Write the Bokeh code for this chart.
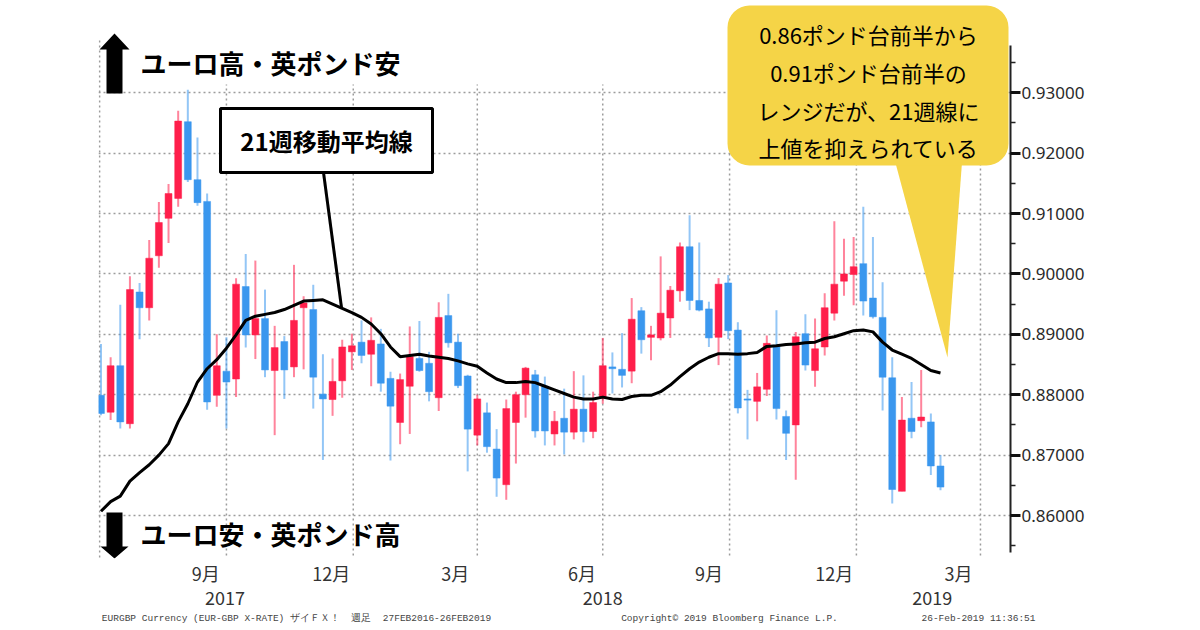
import pandas as pd
from bokeh.plotting import figure
from bokeh.models import (Range1d, LinearAxis, FixedTicker, NumeralTickFormatter,
                          BoxAnnotation, PolyAnnotation, Label, Arrow)
from bokeh.embed import file_html
from bokeh.resources import INLINE

# ---------------- data (weekly EUR/GBP candles) ----------------
last_week = "2019-03-03"
opens = [0.8799, 0.8771, 0.8848, 0.8752, 0.8970, 0.8944, 0.9030, 0.9092, 0.9125, 0.9252,
         0.9156, 0.9120, 0.8799, 0.8839, 0.8826, 0.8979, 0.8899, 0.8926, 0.8840, 0.8888,
         0.8846, 0.8944, 0.8941, 0.8801, 0.8792, 0.8823, 0.8871, 0.8887, 0.8867, 0.8884,
         0.8827, 0.8754, 0.8814, 0.8860, 0.8852, 0.8795, 0.8931, 0.8887, 0.8831, 0.8733,
         0.8770, 0.8710, 0.8651, 0.8754, 0.8800, 0.8833, 0.8814, 0.8735, 0.8761, 0.8738,
         0.8776, 0.8739, 0.8794, 0.8846, 0.8842, 0.8839, 0.8939, 0.8895, 0.8894, 0.8927,
         0.8972, 0.9045, 0.8956, 0.8942, 0.8895, 0.8985, 0.8907, 0.8793, 0.8789, 0.8809,
         0.8882, 0.8764, 0.8750, 0.8901, 0.8840, 0.8879, 0.8935, 0.8988, 0.8999, 0.9017,
         0.8960, 0.8928, 0.8828, 0.8640, 0.8761, 0.8757, 0.8755, 0.8682]
highs = [0.8884, 0.8862, 0.8949, 0.8996, 0.8985, 0.9056, 0.9119, 0.9149, 0.9270, 0.9305,
         0.9226, 0.9133, 0.8900, 0.8895, 0.8993, 0.9033, 0.9022, 0.8974, 0.8914, 0.8897,
         0.9015, 0.8963, 0.8982, 0.8867, 0.8860, 0.8891, 0.8901, 0.8923, 0.8928, 0.8909,
         0.8838, 0.8835, 0.8913, 0.8922, 0.8871, 0.8953, 0.8967, 0.8901, 0.8833, 0.8800,
         0.8787, 0.8743, 0.8792, 0.8805, 0.8846, 0.8841, 0.8830, 0.8773, 0.8810, 0.8839,
         0.8832, 0.8805, 0.8894, 0.8870, 0.8902, 0.8960, 0.8945, 0.8914, 0.9029, 0.8980,
         0.9052, 0.9097, 0.9052, 0.8954, 0.8993, 0.8998, 0.8920, 0.8808, 0.8836, 0.8898,
         0.8940, 0.8774, 0.8904, 0.8933, 0.8926, 0.8968, 0.9087, 0.9058, 0.9061, 0.9111,
         0.9061, 0.8986, 0.8862, 0.8796, 0.8821, 0.8841, 0.8769, 0.8700]
lows = [0.8766, 0.8758, 0.8744, 0.8744, 0.8892, 0.8923, 0.9010, 0.9051, 0.9111, 0.9152,
        0.9113, 0.8775, 0.8780, 0.8744, 0.8796, 0.8878, 0.8859, 0.8829, 0.8733, 0.8793,
        0.8829, 0.8842, 0.8777, 0.8692, 0.8765, 0.8795, 0.8841, 0.8852, 0.8814, 0.8805,
        0.8691, 0.8718, 0.8735, 0.8838, 0.8789, 0.8773, 0.8878, 0.8811, 0.8673, 0.8716,
        0.8704, 0.8631, 0.8626, 0.8686, 0.8762, 0.8729, 0.8716, 0.8716, 0.8701, 0.8726,
        0.8721, 0.8728, 0.8785, 0.8802, 0.8812, 0.8819, 0.8868, 0.8857, 0.8890, 0.8894,
        0.8954, 0.8940, 0.8938, 0.8879, 0.8849, 0.8892, 0.8769, 0.8726, 0.8756, 0.8798,
        0.8759, 0.8692, 0.8659, 0.8840, 0.8813, 0.8865, 0.8923, 0.8964, 0.8948, 0.8931,
        0.8926, 0.8774, 0.8620, 0.8640, 0.8728, 0.8746, 0.8667, 0.8642]
closes = [0.8769, 0.8848, 0.8755, 0.8974, 0.8944, 0.9026, 0.9085, 0.9133, 0.9253, 0.9156,
          0.9118, 0.8788, 0.8848, 0.8821, 0.8983, 0.8899, 0.8926, 0.8841, 0.8878, 0.8841,
          0.8923, 0.8952, 0.8829, 0.8793, 0.8822, 0.8879, 0.8881, 0.8865, 0.8890, 0.8819,
          0.8781, 0.8825, 0.8863, 0.8840, 0.8805, 0.8928, 0.8886, 0.8815, 0.8743, 0.8793,
          0.8714, 0.8662, 0.8777, 0.8800, 0.8844, 0.8740, 0.8740, 0.8756, 0.8738, 0.8776,
          0.8739, 0.8787, 0.8848, 0.8843, 0.8832, 0.8925, 0.8891, 0.8899, 0.8935, 0.8973,
          0.9045, 0.8956, 0.8940, 0.8894, 0.8983, 0.8906, 0.8778, 0.8791, 0.8813, 0.8885,
          0.8777, 0.8736, 0.8896, 0.8849, 0.8876, 0.8944, 0.8983, 0.9000, 0.9012, 0.8955,
          0.8929, 0.8829, 0.8643, 0.8758, 0.8739, 0.8763, 0.8682, 0.8647]
ma21 = [0.8607, 0.8623, 0.8632, 0.8657, 0.8671, 0.8684, 0.8700, 0.8719, 0.8755, 0.8785,
        0.8821, 0.8843, 0.8858, 0.8877, 0.8899, 0.8923, 0.8930, 0.8933, 0.8936, 0.8941,
        0.8948, 0.8955, 0.8956, 0.8957, 0.8950, 0.8943, 0.8936, 0.8928, 0.8917, 0.8901,
        0.8879, 0.8863, 0.8865, 0.8867, 0.8864, 0.8862, 0.8860, 0.8856, 0.8851, 0.8847,
        0.8836, 0.8826, 0.8820, 0.8820, 0.8822, 0.8820, 0.8814, 0.8808, 0.8802, 0.8796,
        0.8793, 0.8793, 0.8796, 0.8793, 0.8792, 0.8797, 0.8799, 0.8799, 0.8805, 0.8816,
        0.8830, 0.8843, 0.8854, 0.8862, 0.8868, 0.8868, 0.8867, 0.8868, 0.8870, 0.8880,
        0.8881, 0.8883, 0.8884, 0.8886, 0.8887, 0.8893, 0.8896, 0.8901, 0.8906, 0.8907,
        0.8904, 0.8887, 0.8874, 0.8867, 0.8860, 0.8850, 0.8840, 0.8836]

month_ticks = ["2017-09-16", "2017-12-16", "2018-03-16", "2018-06-16",
               "2018-09-16", "2018-12-16", "2019-03-16"]
month_labels = ["9月", "12月", "3月", "6月", "9月", "12月", "3月"]
year_ticks = ["2017-09-30", "2018-07-01", "2019-02-25"]
year_labels = ["2017", "2018", "2019"]
quarter_lines = ["2017-07-01", "2017-10-01", "2018-01-01", "2018-04-01",
                 "2018-07-01", "2018-10-01", "2019-01-01", "2019-04-01"]
y_ticks = [0.86, 0.87, 0.88, 0.89, 0.90, 0.91, 0.92, 0.93]
y_minor = [0.855, 0.865, 0.875, 0.885, 0.895, 0.905, 0.915, 0.925, 0.935]
foot_texts = ["EURGBP Currency (EUR-GBP X-RATE) ザイＦＸ！\u00a0\u00a0週足\u00a0\u00a027FEB2016-26FEB2019",
              "Copyright© 2019 Bloomberg Finance L.P.",
              "26-Feb-2019 11:36:51"]
callout_lines = ["0.86ポンド台前半から", "0.91ポンド台前半の",
                 "レンジだが、21週線に", "上値を抑えられている"]


def ms(d):
    return int(pd.Timestamp(d).value // 10**6)


dates = [ms(d) for d in pd.date_range(end=last_week, periods=len(opens), freq="7D")]

# ---------------- geometry helpers (page pixels -> data) ----------------
DAY = 86400000
PX_PER_DAY = 1.3785
FRAME_L, FRAME_R = 98, 1010
FRAME_T, FRAME_B = 4, 558
x_left = ms("2017-07-02") - 1.8 * DAY
x_right = x_left + (FRAME_R - FRAME_L) / PX_PER_DAY * DAY


def X(px):
    return x_left + (px - FRAME_L) / PX_PER_DAY * DAY


def Y(py):
    return 0.86 + (515 - py) / 6040.0


y_top, y_bot = Y(FRAME_T), Y(FRAME_B)

RED, BLUE = "#ff1f4b", "#3a97ee"
up = [c >= o for o, c in zip(opens, closes)]
col = [RED if u else BLUE for u in up]
tops = [max(o, c) for o, c in zip(opens, closes)]
bots = [min(o, c) for o, c in zip(opens, closes)]

p = figure(frame_width=FRAME_R - FRAME_L, frame_height=FRAME_B - FRAME_T,
           x_range=Range1d(x_left, x_right), y_range=Range1d(y_bot, y_top),
           x_axis_type=None, y_axis_location="right",
           output_backend="svg", toolbar_location=None,
           min_border_left=FRAME_L, min_border_right=1194 - FRAME_R,
           min_border_top=FRAME_T, min_border_bottom=0)
p.outline_line_color = None
p.background_fill_color = "white"
p.border_fill_color = "white"

# right value axis
ya = p.yaxis[0]
ya.ticker = FixedTicker(ticks=y_ticks, minor_ticks=y_minor)
ya.formatter = NumeralTickFormatter(format="0.00000")
ya.bounds = (Y(552), Y(45))
ya.axis_line_color = "#222222"
ya.axis_line_width = 2
ya.major_tick_out = 10
ya.major_tick_in = 0
ya.major_tick_line_width = 3
ya.major_tick_line_color = "#111111"
ya.minor_tick_out = 5
ya.minor_tick_in = 0
ya.minor_tick_line_width = 1.5
ya.minor_tick_line_color = "#222222"
ya.major_label_standoff = 1
ya.major_label_text_font = "Noto Sans"
ya.major_label_text_font_size = "17px"
ya.major_label_text_color = "#2a2a2a"

p.ygrid.ticker = FixedTicker(ticks=y_ticks)
p.ygrid.grid_line_color = "#9c9c9c"
p.ygrid.grid_line_dash = "2 3"
p.ygrid.grid_line_width = 1.5

# month axis
month_ms = [ms(d) for d in month_ticks]
ax_m = LinearAxis(ticker=FixedTicker(ticks=month_ms),
                  major_label_overrides=dict(zip(month_ms, month_labels)),
                  axis_line_color=None, major_tick_out=0, major_tick_in=0,
                  minor_tick_out=0, minor_tick_in=0,
                  major_label_standoff=1,
                  major_label_text_font="Noto Sans CJK JP",
                  major_label_text_font_size="18px",
                  major_label_text_color="#333333")
p.add_layout(ax_m, "below")

# year axis
year_ms = [ms(d) for d in year_ticks]
ax_y = LinearAxis(ticker=FixedTicker(ticks=year_ms),
                  major_label_overrides=dict(zip(year_ms, year_labels)),
                  axis_line_color=None, major_tick_out=0, major_tick_in=0,
                  minor_tick_out=0, minor_tick_in=0,
                  major_label_standoff=2,
                  major_label_text_font="Noto Sans CJK JP",
                  major_label_text_font_size="18px",
                  major_label_text_color="#333333")
p.add_layout(ax_y, "below")

# footnote axis (labels are centred on their ticks)
foot_ms = [int(round(X(296))), int(round(X(729))), int(round(X(978)))]
ax_f = LinearAxis(ticker=FixedTicker(ticks=foot_ms),
                  major_label_overrides=dict(zip(foot_ms, foot_texts)),
                  axis_line_color=None, major_tick_out=0, major_tick_in=0,
                  minor_tick_out=0, minor_tick_in=0,
                  major_label_standoff=5,
                  major_label_text_font="Liberation Mono",
                  major_label_text_font_size="9.5px",
                  major_label_text_color="#444444")
p.add_layout(ax_f, "below")

# vertical dotted quarter lines
q_ms = [ms(d) for d in quarter_lines]
p.segment(x0=q_ms[:1], y0=[Y(557)], x1=q_ms[:1], y1=[Y(40)],
          line_color="#9c9c9c", line_dash="2 3", line_width=1.5)
p.segment(x0=q_ms[1:], y0=[Y(555)] * (len(q_ms) - 1), x1=q_ms[1:], y1=[Y(84)] * (len(q_ms) - 1),
          line_color="#9c9c9c", line_dash="2 3", line_width=1.5)

# candles
p.segment(x0=dates, y0=lows, x1=dates, y1=highs, line_color=col, line_alpha=0.55, line_width=2)
p.vbar(x=dates, width=5 * DAY, top=tops, bottom=bots, fill_color=col, line_color=col, line_width=0.5)

# 21-week moving average
p.line(dates, ma21, line_color="black", line_width=3)

# --------------- annotations ---------------
p.add_layout(Arrow(end=None, x_start=X(323), y_start=Y(172), x_end=X(341), y_end=Y(307),
                   line_color="black", line_width=3))
p.add_layout(BoxAnnotation(left=X(220), right=X(432), top=Y(108), bottom=Y(172),
                           fill_color="white", fill_alpha=1, line_color="black",
                           line_alpha=1, line_width=3))
p.add_layout(Label(x=X(326), y=Y(140), text="21週移動平均線", text_align="center",
                   text_baseline="middle", text_font="Noto Sans CJK JP", text_font_style="bold",
                   text_font_size="24px", text_color="black"))

YEL = "#f5d447"
p.add_layout(PolyAnnotation(xs=[X(893), X(962), X(947)], ys=[Y(155), Y(155), Y(357)],
                            fill_color=YEL, fill_alpha=1, line_color=None))
p.add_layout(BoxAnnotation(left=X(727), right=X(1008), top=Y(5), bottom=Y(165),
                           fill_color=YEL, fill_alpha=1, line_color=None, border_radius=22))
for t, py in zip(callout_lines, [33, 71, 109, 146]):
    p.add_layout(Label(x=X(868), y=Y(py), text=t, text_align="center", text_baseline="middle",
                       text_font="Noto Sans CJK JP", text_font_size="22px", text_color="black"))

# up / down arrows and captions
p.add_layout(PolyAnnotation(xs=[X(114), X(129), X(122), X(122), X(106), X(106), X(99)],
                            ys=[Y(33), Y(49), Y(49), Y(93), Y(93), Y(49), Y(49)],
                            fill_color="black", fill_alpha=1, line_color=None))
p.add_layout(PolyAnnotation(xs=[X(106), X(122), X(122), X(128), X(114), X(100), X(106)],
                            ys=[Y(512), Y(512), Y(546), Y(546), Y(558), Y(546), Y(546)],
                            fill_color="black", fill_alpha=1, line_color=None))
p.add_layout(Label(x=X(140), y=Y(62), text="ユーロ高・英ポンド安", text_align="left",
                   text_baseline="middle", text_font="Noto Sans CJK JP", text_font_style="bold",
                   text_font_size="26px", text_color="black"))
p.add_layout(Label(x=X(140), y=Y(533), text="ユーロ安・英ポンド高", text_align="left",
                   text_baseline="middle", text_font="Noto Sans CJK JP", text_font_style="bold",
                   text_font_size="26px", text_color="black"))

open("out.html", "w").write(file_html(p, INLINE))
